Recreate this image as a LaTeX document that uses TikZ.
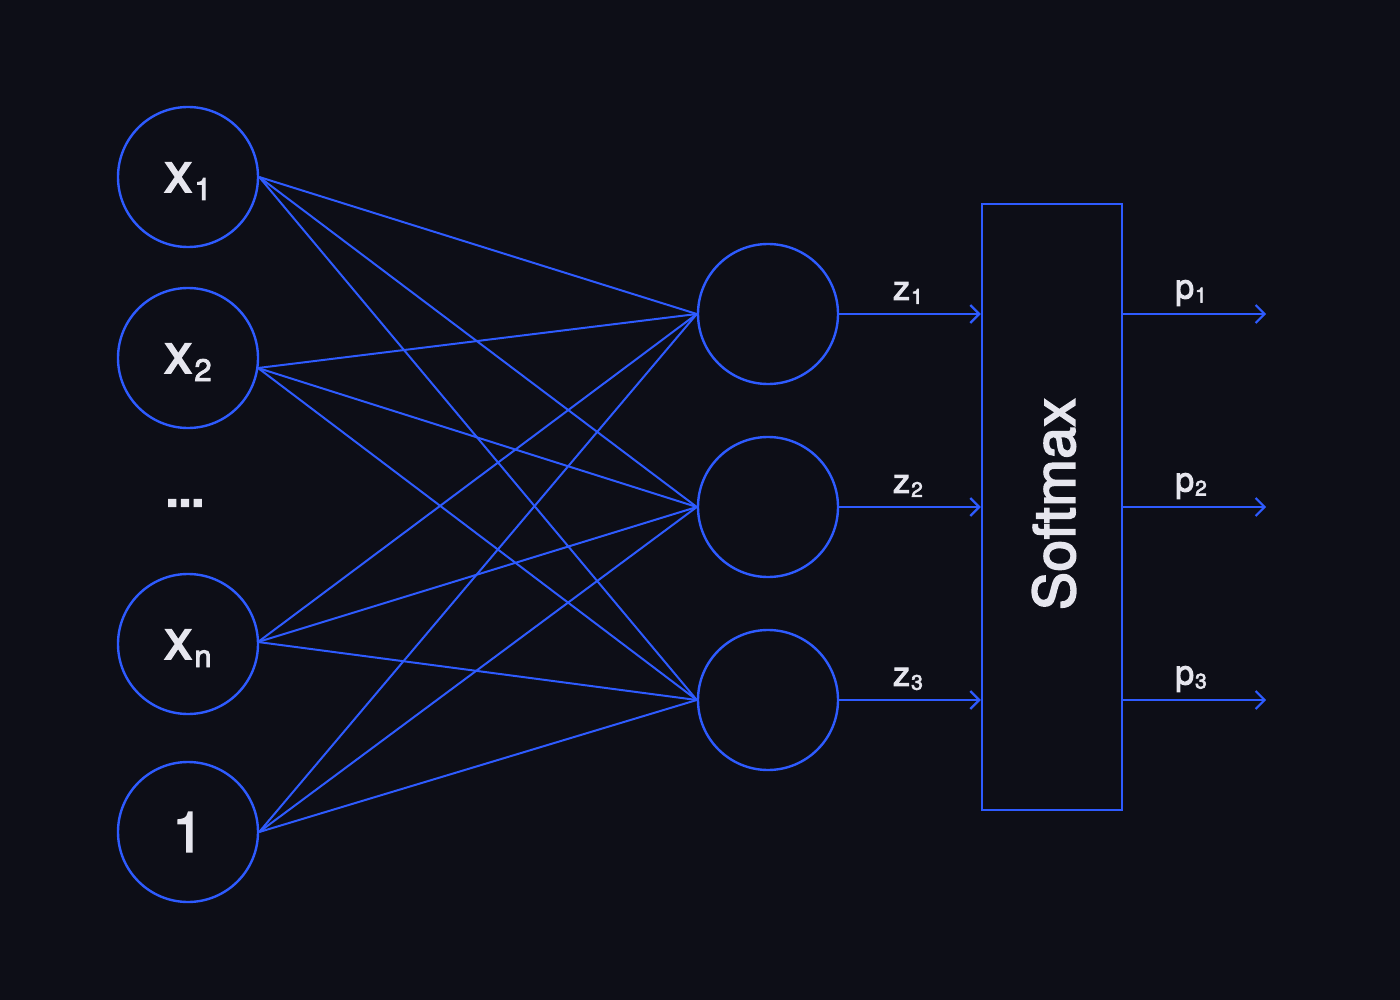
\documentclass[tikz,border=0pt]{standalone}
\usepackage{fontspec}
\setmainfont{TeX Gyre Heros}[FakeBold=3]
\usetikzlibrary{arrows.meta,calc}
\definecolor{bg}{HTML}{0D0E17}
\definecolor{nnblue}{HTML}{2E5BFF}
\definecolor{txt}{HTML}{E6E6EE}
\newcommand{\bigsub}[1]{\kern2pt\raisebox{-8pt}{\fontsize{31}{31}\selectfont #1}}
\newcommand{\smallsub}[1]{\kern1pt\raisebox{-4pt}{\fontsize{21}{21}\selectfont #1}}
\newcommand{\inlab}[1]{\raisebox{-15pt}[0pt][0pt]{#1}}
\tikzset{
  neuron/.style={circle, draw=nnblue, line width=2.4pt, minimum size=140pt, inner sep=0pt, text=txt, font=\fontsize{56}{60}\selectfont},
  wire/.style={draw=nnblue, line width=2pt},
  arr/.style={draw=nnblue, line width=2.2pt, -{Straight Barb[length=9pt,width=18pt,line width=2.2pt]}},
  lab/.style={text=txt, font=\fontsize{34}{36}\selectfont, inner sep=0pt},
  smbox/.style={draw=nnblue, line width=2.4pt, minimum width=140pt, minimum height=606pt, inner sep=0pt}
}
\begin{document}
\begin{tikzpicture}[x=1pt,y=-1pt]
\fill[bg] (0,0) rectangle (1400,1000);
\useasboundingbox (0,0) rectangle (1400,1000);
% inputs
\node[neuron] (x1) at (188,177) {\inlab{x\bigsub{1}}};
\node[neuron] (x2) at (188,358) {\inlab{x\bigsub{2}}};
\node[neuron] (xn) at (188,644) {\inlab{x\bigsub{n}}};
\node[neuron] (one) at (188,832) {1};
\node[text=txt, font=\bfseries\fontsize{46}{46}\selectfont, inner sep=0pt] (dots) at (185,503) {...};
\coordinate (x2o) at (258,368);
\coordinate (xno) at (258,642);
% hidden
\node[neuron] (h1) at (768,314) {};
\node[neuron] (h2) at (768,507) {};
\node[neuron] (h3) at (768,700) {};
% edges
\foreach \s in {x1.east,x2o,xno,one.east}{
  \foreach \t in {h1,h2,h3}{
    \draw[wire] (\s) -- (\t.west);
  }
}
% softmax
\node[smbox] (sm) at (1052,507) {};
\node[text=txt, font=\fontsize{57}{60}\selectfont, rotate=90, inner sep=0pt] (smt) at (1054,504) {S\kern.5pt o\kern.5pt f\kern.5pt t\kern.5pt m\kern.5pt a\kern.5pt x};
% z arrows
\foreach \i in {1,2,3}{
  \draw[arr] (h\i.east) -- (h\i.east -| sm.west);
  \coordinate (pe\i) at ($(h\i.east -| sm.east)+(143,0)$);
  \draw[arr] (h\i.east -| sm.east) -- (pe\i);
}
\node[lab] (z1) at (908,293) {z\smallsub{1}};
\node[lab] (z2) at (908,486) {z\smallsub{2}};
\node[lab] (z3) at (908,679) {z\smallsub{3}};
\node[lab] (p1) at (1191,293) {p\smallsub{1}};
\node[lab] (p2) at (1191,486) {p\smallsub{2}};
\node[lab] (p3) at (1191,679) {p\smallsub{3}};
\end{tikzpicture}
\end{document}
